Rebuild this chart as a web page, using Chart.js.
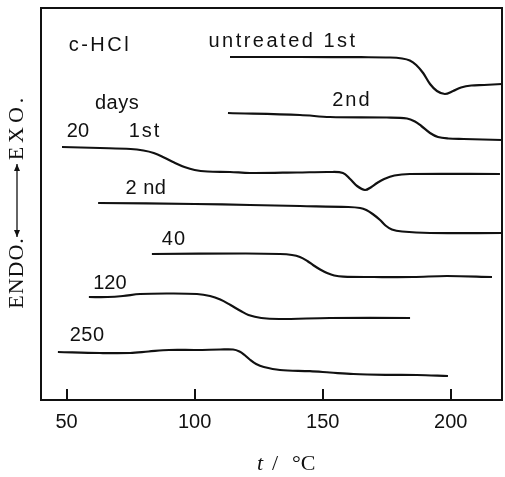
<!DOCTYPE html>
<html>
<head>
<meta charset="utf-8">
<script src="https://cdn.jsdelivr.net/npm/chart.js@4.4.1/dist/chart.umd.min.js"></script>
<style>
  html, body { margin: 0; padding: 0; background: #fff; }
  #wrap { width: 505px; height: 477px; }
</style>
</head>
<body>
<div id="wrap"><canvas id="c" width="505" height="477"></canvas></div>
<script>
// ---- Data (temperature in °C, heat-flow signal in arbitrary units) ----
const xTicks = [50, 100, 150, 200];

const tUntreated1 = [113.8, 141.1, 165.0, 176.3, 181.0, 184.0, 186.5, 189.2, 191.9, 194.6, 197.7, 200.9, 204.0, 208.0, 213.0, 220.0];
const sUntreated1 = [343, 343, 342.8, 342.5, 341.5, 339.5, 335, 327, 316, 309, 306, 309, 312.5, 314.5, 315, 316];

const tUntreated2 = [113.0, 141.1, 152.8, 175.0, 182.9, 186.0, 188.5, 191.9, 195.0, 199.0, 205.0, 220.0];
const sUntreated2 = [287, 285, 283, 282.5, 281.5, 278.5, 274, 267, 263, 261.5, 261, 260];

const tDays20a = [48.2, 63.0, 75.0, 80.0, 84.0, 88.0, 92.0, 96.0, 100.0, 105.0, 113.8, 121.6, 140.0, 152.8, 157.9, 160.7, 163.4, 166.5, 169.0, 171.2, 174.0, 178.0, 184.0, 219.2];
const sDays20a = [253, 252, 251, 249.5, 247, 242.5, 237.5, 233, 230, 228.5, 228, 227, 227.5, 228, 227, 221, 214, 210, 213, 217, 221, 224.5, 226, 226];

const tDays20b = [62.3, 100.0, 121.6, 141.1, 160.0, 164.6, 167.0, 169.5, 172.4, 174.5, 177.0, 181.0, 191.9, 220.0];
const sDays20b = [197, 196, 195, 194, 193, 192, 190, 186, 180, 174.5, 170.5, 168.5, 167, 167];

const tDays40 = [83.3, 120.0, 133.3, 138.0, 141.1, 144.0, 146.2, 149.0, 151.7, 154.5, 158.0, 170.0, 185.3, 198.5, 216.1];
const sDays40 = [146, 146.5, 146, 145, 143, 139, 135, 130.5, 127, 124.5, 123.3, 123, 123, 124, 123];

const tDays120 = [58.7, 66.0, 72.0, 78.7, 90.0, 100.9, 106.0, 110.0, 114.0, 118.0, 121.0, 126.0, 133.0, 152.8, 184.1];
const sDays120 = [103, 103, 104, 106, 106.5, 106, 104, 100.5, 95, 89, 85, 82, 81, 82, 82];

const tDays250 = [46.6, 63.0, 74.8, 82.0, 90.0, 100.9, 110.0, 115.0, 117.5, 119.5, 121.5, 124.0, 127.0, 133.3, 145.0, 152.8, 162.0, 175.0, 186.8, 198.9];
const sDays250 = [48, 47, 47, 48.5, 50, 50, 50.5, 50.5, 48.5, 45, 40.5, 36, 33, 30, 28.8, 27.5, 26, 25.2, 25, 24];

const seriesNames = ['untreated 1st', 'untreated 2nd', '20 days 1st', '20 days 2nd', '40 days', '120 days', '250 days'];
const seriesT = [tUntreated1, tUntreated2, tDays20a, tDays20b, tDays40, tDays120, tDays250];
const seriesS = [sUntreated1, sUntreated2, sDays20a, sDays20b, sDays40, sDays120, sDays250];

// curve labels (text, temperature, signal)
const labelTexts = ['c-HCl', 'untreated 1st', '2nd', 'days', '20', '1st', '2 nd', '40', '120', '250'];
const labelT = [63.0, 134.5, 161.4, 69.7, 54.4, 80.6, 81.0, 91.9, 66.9, 58.0];
const labelS = [355, 359, 300, 297, 269, 269, 212, 161, 117, 65];
const labelSpacing = [2.5, 2.5, 2, 0.5, 0, 2, 0.5, 1, 0, 0.5];

// ---- build ----
const datasets = seriesNames.map((name, k) => ({
  label: name,
  data: seriesT[k].map((t, i) => ({ x: t, y: seriesS[k][i] })),
  borderColor: '#111',
  borderWidth: 2.2,
  pointRadius: 0,
  fill: false,
  tension: 0.35
}));

const decor = {
  id: 'decor',
  afterDraw(chart) {
    const ctx = chart.ctx;
    const a = chart.chartArea;
    const xs = chart.scales.x, ys = chart.scales.y;
    ctx.save();
    // frame
    ctx.strokeStyle = '#111';
    ctx.lineWidth = 2;
    ctx.strokeRect(a.left, a.top, a.right - a.left, a.bottom - a.top);
    // inward ticks
    xTicks.forEach(v => {
      const px = Math.round(xs.getPixelForValue(v));
      ctx.beginPath();
      ctx.moveTo(px, a.bottom);
      ctx.lineTo(px, a.bottom - 11);
      ctx.stroke();
    });
    // curve labels
    ctx.fillStyle = '#111';
    ctx.textAlign = 'center';
    ctx.textBaseline = 'middle';
    ctx.font = '20px "Liberation Sans", Arial, sans-serif';
    labelTexts.forEach((txt, i) => {
      ctx.letterSpacing = labelSpacing[i] + 'px';
      ctx.fillText(txt, xs.getPixelForValue(labelT[i]), ys.getPixelForValue(labelS[i]));
    });
    ctx.letterSpacing = '0px';
    // y axis title (rotated)
    ctx.save();
    ctx.translate(17, 0);
    ctx.rotate(-Math.PI / 2);
    ctx.font = '22px "Liberation Serif", "DejaVu Serif", serif';
    ctx.textBaseline = 'middle';
    ctx.textAlign = 'center';
    ctx.letterSpacing = '1px';
    ctx.fillText('ENDO.', -273, 0);
    ctx.letterSpacing = '4px';
    ctx.fillText('EXO.', -127, 0);
    ctx.letterSpacing = '0px';
    // double arrow
    ctx.lineWidth = 1.3;
    ctx.beginPath();
    ctx.moveTo(-237, 0);
    ctx.lineTo(-164, 0);
    ctx.stroke();
    ctx.beginPath();
    ctx.moveTo(-164, 0); ctx.lineTo(-171, -3); ctx.lineTo(-171, 3); ctx.closePath();
    ctx.moveTo(-237, 0); ctx.lineTo(-230, -3); ctx.lineTo(-230, 3); ctx.closePath();
    ctx.fill();
    ctx.restore();
    // x axis title: t / °C
    ctx.textBaseline = 'middle';
    ctx.textAlign = 'left';
    ctx.font = 'italic 22px "Liberation Serif", "DejaVu Serif", serif';
    ctx.fillText('t', 257, 464);
    ctx.font = '22px "Liberation Serif", "DejaVu Serif", serif';
    ctx.fillText('/', 272, 464);
    ctx.fillText('°C', 292, 464);
    ctx.restore();
  }
};

new Chart(document.getElementById('c'), {
  type: 'line',
  data: { datasets },
  options: {
    responsive: false,
    animation: false,
    events: [],
    layout: { padding: { left: 41, right: 3, top: 8, bottom: 33 } },
    plugins: { legend: { display: false }, tooltip: { enabled: false } },
    scales: {
      x: {
        type: 'linear',
        min: 40,
        max: 220,
        afterBuildTicks: s => { s.ticks = xTicks.map(v => ({ value: v })); },
        grid: { display: false, drawTicks: false },
        border: { display: false },
        ticks: {
          color: '#111',
          padding: 10,
          maxRotation: 0,
          font: { family: '"Liberation Sans", Arial, sans-serif', size: 20 }
        }
      },
      y: { display: false, min: 0, max: 392 }
    }
  },
  plugins: [decor]
});
</script>
</body>
</html>
